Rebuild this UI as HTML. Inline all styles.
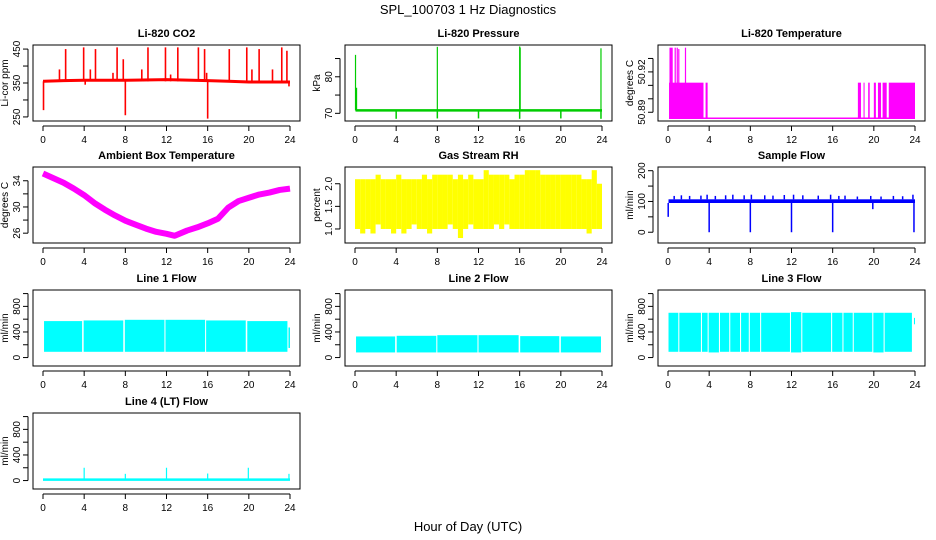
<!DOCTYPE html>
<html><head><meta charset="utf-8"><style>
html,body{margin:0;padding:0;background:#fff;}
svg{display:block;font-family:"Liberation Sans",sans-serif;}
</style></head><body>
<svg id="chart" width="936" height="540" viewBox="0 0 936 540" xmlns="http://www.w3.org/2000/svg">
<text x="468" y="14" text-anchor="middle" font-size="13">SPL_100703  1 Hz Diagnostics</text>
<text x="468" y="531" text-anchor="middle" font-size="13">Hour of Day (UTC)</text>
</svg>
<script>
// ---------- data ----------
const xTicks = [0,4,8,12,16,20,24];
// CO2
const co2BaseHours = [0,0.1,2,4,8,12,16,18,20,24];
const co2BaseVals  = [355,355,357,358,358,360,357,355,353,353];
const co2SpikeHours = [0.05,1.6,2.2,3.95,4.1,4.6,5.1,6.8,7.2,7.8,8.0,9.6,10.2,11.9,12.4,13.1,15.1,15.7,15.9,16.0,18.1,19.8,20.3,21.0,22.3,23.2,23.7,23.9];
const co2SpikeVals  = [270,390,450,455,345,390,450,380,455,420,255,390,455,455,375,455,455,450,380,245,450,455,390,450,390,455,445,340];
// Pressure
const presBase = 70.8;
const presSpikeHours = [0.05,0.15,8.0,16.0,16.05,23.9];
const presSpikeVals  = [86,77,88.2,88.3,88,87.8];
const presDipHours = [4,8,12,16,20,23.9];
const presDipVals  = [68.5,68.6,68.6,68.5,68.6,68.5];
// Li-820 temperature
const tempLow = 50.8855;
const tempMid = 50.912;
const tempBandStart = [0.1,3.65,18.45,19.0,19.45,20.0,20.4,20.85,21.45];
const tempBandEnd   = [3.45,3.85,18.75,19.1,19.6,20.2,20.7,21.25,24.0];
const tempHighHours = [0.2,0.3,0.4,0.7,0.9,1.05,1.7];
const tempHighVals  = [50.938,50.938,50.938,50.938,50.938,50.937,50.938];
// Ambient box temperature
const ambHours = [0,1,2,3,4,5,6,7,8,9,10,11,12,12.8,14,15,16,17,18,19,20,21,22,23,24];
const ambVals  = [35.1,34.4,33.7,32.8,31.8,30.6,29.6,28.7,27.9,27.3,26.7,26.2,25.9,25.6,26.4,26.9,27.5,28.2,29.9,30.9,31.4,31.9,32.2,32.6,32.8];
// Gas stream RH (per half hour bin)
const rhLo = [1.0,0.9,1.0,0.9,1.1,1.0,1.0,0.9,1.0,0.9,1.0,1.1,1.0,1.0,0.9,1.0,1.0,1.0,1.1,1.0,0.8,1.0,1.1,1.0,1.0,1.0,1.0,1.1,1.0,1.1,1.0,1.0,1.0,1.0,1.0,1.0,1.0,1.0,1.0,1.0,1.0,1.0,1.0,1.0,1.0,0.9,1.0,1.0];
const rhHi = [2.1,2.1,2.1,2.1,2.2,2.1,2.1,2.1,2.2,2.1,2.1,2.1,2.1,2.2,2.1,2.2,2.2,2.2,2.2,2.1,2.2,2.1,2.2,2.1,2.1,2.3,2.2,2.2,2.2,2.2,2.1,2.2,2.2,2.3,2.3,2.3,2.2,2.2,2.2,2.2,2.2,2.2,2.2,2.2,2.1,2.1,2.3,2.0];
// Sample flow
const sfLo = 95, sfHi = 107;
const sfSpikeHours = [0.6,1.3,2.1,3.2,3.8,4.6,5.6,6.3,7.4,8.1,9.4,10.2,11.3,12.2,13.1,14.6,15.8,16.6,17.2,18.4,19.7,20.7,21.9,22.8,23.8];
const sfSpikeVals  = [118,120,118,119,122,118,120,122,120,122,120,119,121,122,120,119,122,118,119,116,118,116,118,117,122];
const sfDipHours = [0.02,4.0,8.0,12.0,16.0,19.9,23.9];
const sfDipVals  = [50,0,0,0,0,75,0];
// Line flows: segments [start, end], low, high
const l1Start = [0.1,3.95,7.95,11.9,15.85,19.85,23.85];
const l1End   = [3.8,7.8,11.8,15.75,19.7,23.75,24.0];
const l1Lo    = [90,90,90,90,90,90,150];
const l1Hi    = [570,580,590,590,580,570,470];
const l2Start = [0.1,4.05,8.0,12.0,16.05,20.0];
const l2End   = [3.9,7.9,11.9,15.9,19.85,23.9];
const l2Lo    = [80,80,80,80,80,80];
const l2Hi    = [330,340,350,350,335,330];
const l3Start = [0.05,1.1,3.3,3.95,5.05,6.05,7.1,7.95,9.05,11.95,13.05,15.95,17.05,18.05,19.95,21.05,23.9];
const l3End   = [1.0,3.2,3.85,4.95,5.95,7.0,7.85,8.95,11.85,12.95,15.85,16.95,17.95,19.85,20.95,23.7,24.0];
const l3Lo    = [90,90,90,80,90,90,90,90,90,80,90,90,90,90,80,90,520];
const l3Hi    = [700,700,700,700,700,700,700,700,700,710,700,700,700,700,700,700,620];
// Line 4
const l4Base = 15;
const l4SpikeHours = [4.0,8.0,12.0,16.0,19.95,23.9];
const l4SpikeVals  = [200,105,200,110,200,105];

// ---------- layout ----------
const svg = document.getElementById('chart');
const NS = 'http://www.w3.org/2000/svg';
const colX0 = [43,355,668];
const rowTop = [45,167,290,413];
const PW = 247, BH = 76;
function mk(tag, attrs, parent){
  const e = document.createElementNS(NS, tag);
  for (const k in attrs) e.setAttribute(k, attrs[k]);
  (parent||svg).appendChild(e);
  return e;
}
function panel(id, col, row, title, ylab, d0, d1, yTicks, yLabels, color){
  const g = mk('g', {});
  
  
  const x0 = colX0[col], top = rowTop[row], bot = top + BH;
  const left = x0 - 10, right = x0 + PW + 10;
  const X = h => x0 + h / 24 * PW;
  const Y = v => bot - (v - d0) / (d1 - d0) * BH;
  const marks = mk('g', {stroke: color, fill: color}, g);
  
  
  const box = mk('rect', {x:left, y:top, width:right-left, height:BH, fill:'none', stroke:'#000', 'stroke-width':1}, g);
  
  
  const t = mk('text', {x:(left+right)/2, y:top-8, 'text-anchor':'middle', 'font-size':11, 'font-weight':'bold'}, g);
  
  
  t.textContent = title;
  const xa = mk('g', {}, g);
  
  
  mk('line', {x1:X(0), x2:X(24), y1:bot+5, y2:bot+5, stroke:'#000'}, xa);
  xTicks.forEach(h => {
    mk('line', {x1:X(h), x2:X(h), y1:bot+5, y2:bot+10, stroke:'#000'}, xa);
    const tx = mk('text', {x:X(h), y:bot+22, 'text-anchor':'middle', 'font-size':10}, xa);
    tx.textContent = h;
  });
  const ya = mk('g', {}, g);
  
  
  mk('line', {x1:left-5, x2:left-5, y1:Y(yTicks[0]), y2:Y(yTicks[yTicks.length-1]), stroke:'#000'}, ya);
  yTicks.forEach((v,i) => {
    mk('line', {x1:left-10, x2:left-5, y1:Y(v), y2:Y(v), stroke:'#000'}, ya);
    if (yLabels[i] !== '') {
      const ty = mk('text', {x:left-13, y:Y(v), 'text-anchor':'middle', 'font-size':10, transform:`rotate(-90 ${left-13} ${Y(v)})`}, ya);
      ty.textContent = yLabels[i];
    }
  });
  const yl = mk('text', {x:left-25, y:(top+bot)/2, 'text-anchor':'middle', 'font-size':10, transform:`rotate(-90 ${left-25} ${(top+bot)/2})`}, g);
  
  
  yl.textContent = ylab;
  return {X, Y, marks};
}
function vline(p, h, v0, v1, w){ mk('line', {x1:p.X(h), x2:p.X(h), y1:p.Y(v0), y2:p.Y(v1), 'stroke-width':w||1.2}, p.marks); }
function band(p, h0, h1, v0, v1){
  const y0 = p.Y(v1), y1 = p.Y(v0);
  mk('rect', {x:p.X(h0), y:y0, width:Math.max(0.8,p.X(h1)-p.X(h0)), height:Math.max(1.5,y1-y0), stroke:'none'}, p.marks);
}
const flowTicks = [0,200,400,600,800,1000], flowLabels = ['0','','400','','800',''];

// CO2
let p = panel('co2',0,0,'Li-820 CO2','Li-cor ppm',238,462,[250,300,350,400,450],['250','','350','','450'],'#ff0000');
let pts = co2BaseHours.map((h,i)=>p.X(h)+','+p.Y(co2BaseVals[i])).join(' ');
mk('polyline',{points:pts,fill:'none','stroke-width':3},p.marks);
co2SpikeHours.forEach((h,i)=>vline(p,h,co2BaseVals[0],co2SpikeVals[i],1.6));
// Pressure
p = panel('pressure',1,0,'Li-820 Pressure','kPa',67.9,88.7,[70,75,80,85],['70','','80',''],'#00cc00');
mk('line',{x1:p.X(0.05),x2:p.X(24),y1:p.Y(presBase),y2:p.Y(presBase),'stroke-width':2.5},p.marks);
presSpikeHours.forEach((h,i)=>vline(p,h,presBase,presSpikeVals[i],1.2));
presDipHours.forEach((h,i)=>vline(p,h,presBase,presDipVals[i],1.5));
// Temperature
p = panel('li820-temperature',2,0,'Li-820 Temperature','degrees C',50.8835,50.940,[50.89,50.90,50.91,50.92,50.93],['50.89','','','50.92',''],'#ff00ff');
mk('line',{x1:p.X(0.1),x2:p.X(24),y1:p.Y(tempLow),y2:p.Y(tempLow),'stroke-width':1.5},p.marks);
tempBandStart.forEach((h,i)=>band(p,h,tempBandEnd[i],tempLow,tempMid));
tempHighHours.forEach((h,i)=>vline(p,h,tempLow,tempHighVals[i],1.2));
// Ambient
p = panel('ambient-temperature',0,1,'Ambient Box Temperature','degrees C',24.5,36.1,[26,28,30,32,34],['26','','30','','34'],'#ff00ff');
pts = ambHours.map((h,i)=>p.X(h)+','+p.Y(ambVals[i])).join(' ');
mk('polyline',{points:pts,fill:'none','stroke-width':6,'stroke-linejoin':'round'},p.marks);
// RH
p = panel('gas-stream-rh',1,1,'Gas Stream RH','percent',0.69,2.37,[1.0,1.5,2.0],['1.0','1.5','2.0'],'#ffff00');
rhLo.forEach((v,i)=>band(p,i*0.5,i*0.5+0.5,v,rhHi[i]));
// Sample flow
p = panel('sample-flow',2,1,'Sample Flow','ml/min',-35,212,[0,50,100,150,200],['0','','100','','200'],'#0000ff');
band(p,0.05,24,sfLo,sfHi);
sfSpikeHours.forEach((h,i)=>vline(p,h,sfHi,sfSpikeVals[i],1.5));
sfDipHours.forEach((h,i)=>vline(p,h,sfLo,sfDipVals[i],1.5));
// Line 1
p = panel('line1-flow',0,2,'Line 1 Flow','ml/min',-132,1056,flowTicks,flowLabels,'#00ffff');
l1Start.forEach((h,i)=>band(p,h,l1End[i],l1Lo[i],l1Hi[i]));
// Line 2
p = panel('line2-flow',1,2,'Line 2 Flow','ml/min',-132,1056,flowTicks,flowLabels,'#00ffff');
l2Start.forEach((h,i)=>band(p,h,l2End[i],l2Lo[i],l2Hi[i]));
// Line 3
p = panel('line3-flow',2,2,'Line 3 Flow','ml/min',-132,1056,flowTicks,flowLabels,'#00ffff');
l3Start.forEach((h,i)=>band(p,h,l3End[i],l3Lo[i],l3Hi[i]));
// Line 4
p = panel('line4-flow',0,3,'Line 4 (LT) Flow','ml/min',-132,1056,flowTicks,flowLabels,'#00ffff');
mk('line',{x1:p.X(0),x2:p.X(24),y1:p.Y(l4Base),y2:p.Y(l4Base),'stroke-width':2.5},p.marks);
l4SpikeHours.forEach((h,i)=>vline(p,h,l4Base,l4SpikeVals[i],1.2));
</script>
</body></html>
